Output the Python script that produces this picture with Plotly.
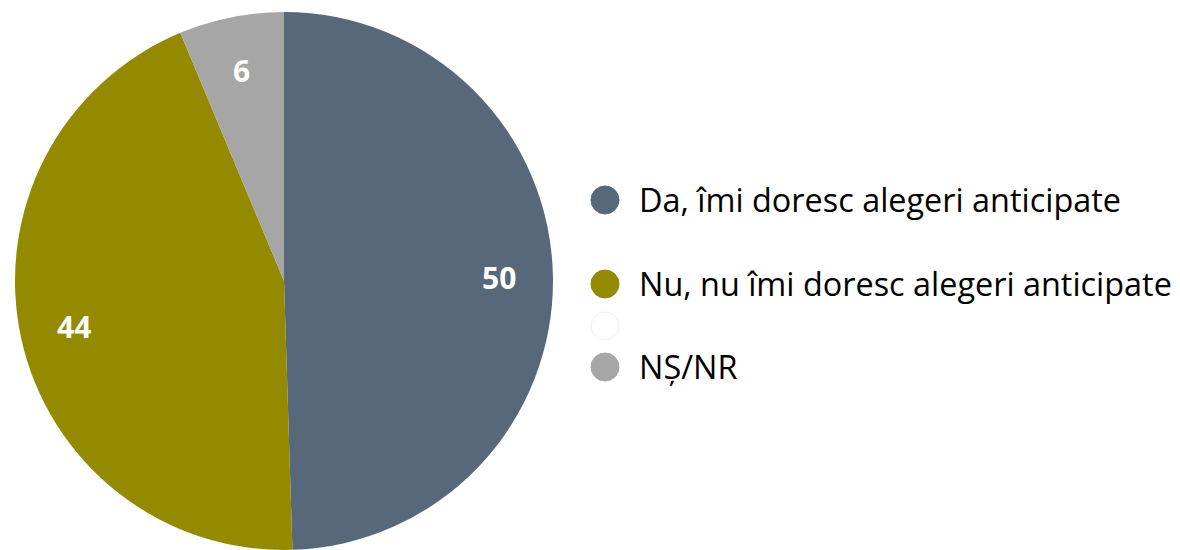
import math
import plotly.graph_objects as go

categories = ["Da, îmi doresc alegeri anticipate", "Nu, nu îmi doresc alegeri anticipate", "", "NȘ/NR"]
values = [49.5, 44.2, 0, 6.3]
labels_shown = ["50", "44", "", "6"]
colors = ["#566879", "#948A00", "#FFFFFF", "#A6A6A6"]

W, H = 1180, 550
OFF = 8  # page body margin
FONT = "Open Sans"
cx, cy, r = 284 - OFF, 281 - OFF, 269  # pixels within the figure

fig = go.Figure()
fig.add_trace(go.Pie(
    labels=categories, values=values, sort=False, direction="clockwise", rotation=0,
    marker=dict(colors=colors, line=dict(width=0)),
    textinfo="none", hoverinfo="label+value", showlegend=False,
    domain=dict(x=[(cx - r) / W, (cx + r) / W], y=[(H - cy - r) / H, (H - cy + r) / H]),
))

annotations = []
total = sum(values)
cum = 0
for v, t in zip(values, labels_shown):
    mid = (cum + v / 2) / total * 2 * math.pi
    cum += v
    if not t:
        continue
    px = cx + 0.8 * r * math.sin(mid)
    py = cy - 0.8 * r * math.cos(mid)
    annotations.append(dict(x=px / W, y=1 - py / H, xref="paper", yref="paper", text=t,
                            xanchor="center", yanchor="middle", showarrow=False,
                            font=dict(family=FONT, size=30, color="white", weight="bold")))

shapes = []
leg_y = [200 - OFF, 284 - OFF, 326 - OFF, 367 - OFF]
mx = 605 - OFF
for name, col, yy in zip(categories, colors, leg_y):
    shapes.append(dict(type="circle", xref="paper", yref="paper",
                       x0=(mx - 14) / W, x1=(mx + 14) / W,
                       y0=1 - (yy + 14) / H, y1=1 - (yy - 14) / H,
                       fillcolor=col, line=dict(color="#F0F0F0" if col == "#FFFFFF" else col, width=1)))
    if name:
        annotations.append(dict(x=(637 - OFF) / W, y=1 - (yy - 1) / H, xref="paper", yref="paper", text=name,
                                showarrow=False, xanchor="left", yanchor="middle",
                                font=dict(family=FONT, size=32.4, color="black")))

fig.update_layout(width=W, height=H, margin=dict(l=0, r=0, t=0, b=0),
                  paper_bgcolor="white", plot_bgcolor="white",
                  annotations=annotations, shapes=shapes)
fig.write_html("out.html")
